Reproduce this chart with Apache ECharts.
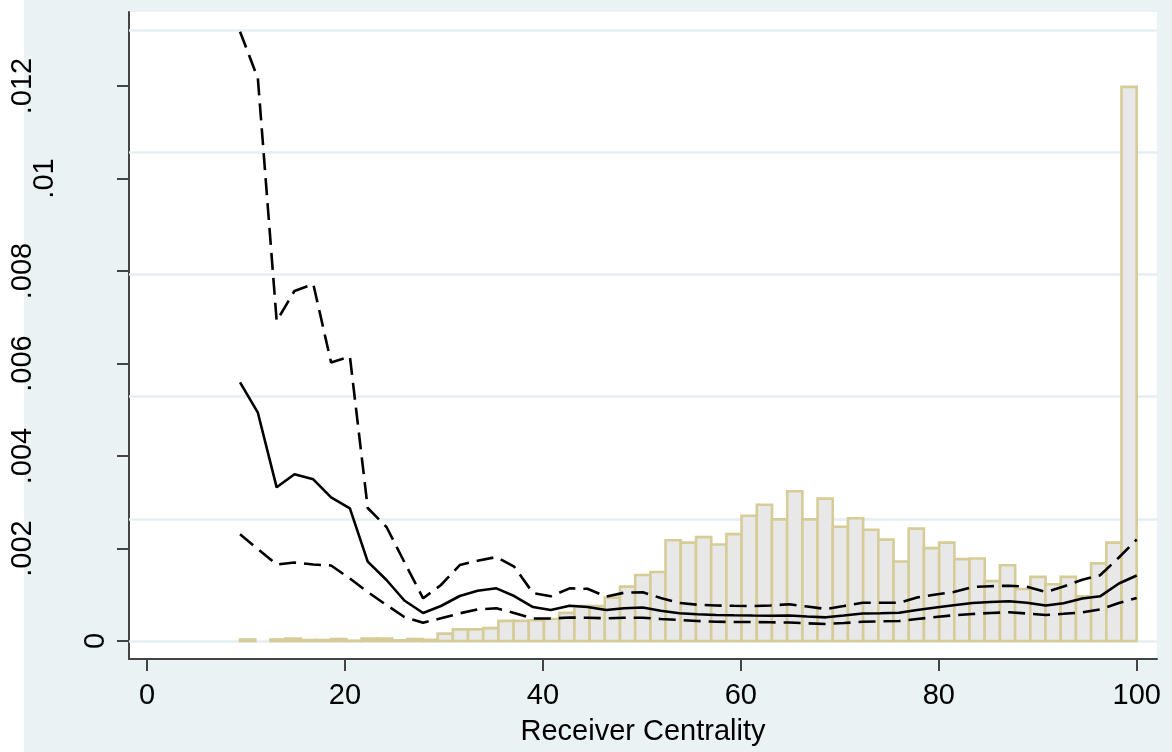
<!DOCTYPE html>
<html><head><meta charset="utf-8">
<script src="https://cdn.jsdelivr.net/npm/echarts@6/dist/echarts.min.js"></script>
<style>
html,body{margin:0;padding:0;background:#fff;}
#chart{width:1172px;height:752px;background:linear-gradient(to right,#ffffff 0,#ffffff 24px,#EAF2F3 24px);}
</style></head><body><div id="chart"></div>
<script>
// local polynomial fit evaluation grid (x) and values
const lpX = [9.4, 11.2, 13.1, 14.9, 16.8, 18.6, 20.5, 22.3, 24.2, 26.0, 27.9, 29.7, 31.6, 33.4, 35.3, 37.1, 39.0, 40.8, 42.7, 44.5, 46.4, 48.2, 50.1, 51.9, 53.8, 55.6, 57.5, 59.3, 61.2, 63.0, 64.9, 66.7, 68.6, 70.4, 72.3, 74.1, 76.0, 77.8, 79.7, 81.5, 83.4, 85.2, 87.1, 88.9, 90.8, 92.6, 94.5, 96.3, 98.2, 100.0];
const fitted = [0.005594, 0.004936, 0.003323, 0.003604, 0.003496, 0.003107, 0.002869, 0.001715, 0.001319, 0.000876, 0.000605, 0.000757, 0.000973, 0.001088, 0.001139, 0.000973, 0.000735, 0.000670, 0.000761, 0.000735, 0.000670, 0.000707, 0.000724, 0.000655, 0.000599, 0.000577, 0.000562, 0.000556, 0.000551, 0.000547, 0.000551, 0.000530, 0.000512, 0.000551, 0.000595, 0.000601, 0.000610, 0.000670, 0.000724, 0.000774, 0.000822, 0.000843, 0.000861, 0.000828, 0.000768, 0.000817, 0.000919, 0.000966, 0.001243, 0.001416];
const ciUpper = [0.013174, 0.012166, 0.006919, 0.007568, 0.007719, 0.006022, 0.006151, 0.002876, 0.002465, 0.001708, 0.000923, 0.001211, 0.001643, 0.001736, 0.001816, 0.001606, 0.001038, 0.000966, 0.001139, 0.001129, 0.000958, 0.001044, 0.001055, 0.000930, 0.000822, 0.000785, 0.000768, 0.000761, 0.000757, 0.000768, 0.000794, 0.000746, 0.000692, 0.000757, 0.000828, 0.000828, 0.000828, 0.000941, 0.001005, 0.001059, 0.001168, 0.001185, 0.001196, 0.001172, 0.001059, 0.001178, 0.001325, 0.001421, 0.001805, 0.002195];
const ciLower = [0.002307, 0.001989, 0.001654, 0.001697, 0.001654, 0.001632, 0.001351, 0.001059, 0.000778, 0.000519, 0.000396, 0.000491, 0.000599, 0.000681, 0.000707, 0.000605, 0.000486, 0.000486, 0.000508, 0.000502, 0.000491, 0.000502, 0.000502, 0.000476, 0.000454, 0.000432, 0.000417, 0.000411, 0.000411, 0.000404, 0.000400, 0.000383, 0.000368, 0.000389, 0.000415, 0.000426, 0.000432, 0.000476, 0.000519, 0.000556, 0.000584, 0.000605, 0.000621, 0.000595, 0.000562, 0.000588, 0.000618, 0.000681, 0.000822, 0.000930];

// histogram: bin centres and densities
const histCenters = [10.17, 11.70, 13.24, 14.77, 16.31, 17.85, 19.38, 20.92, 22.45, 23.99, 25.52, 27.06, 28.60, 30.13, 31.67, 33.20, 34.74, 36.27, 37.81, 39.34, 40.88, 42.42, 43.95, 45.49, 47.02, 48.56, 50.09, 51.63, 53.16, 54.70, 56.24, 57.77, 59.31, 60.84, 62.38, 63.91, 65.45, 66.99, 68.52, 70.06, 71.59, 73.13, 74.66, 76.20, 77.73, 79.27, 80.81, 82.34, 83.88, 85.41, 86.95, 88.48, 90.02, 91.55, 93.09, 94.63, 96.16, 97.70, 99.23];
const histDensity = [0.00025, 0, 0.00025, 0.0004, 0.00016, 0.00016, 0.00033, 0.00005, 0.0004, 0.0004, 0.00011, 0.00033, 0.0002, 0.0012, 0.0019, 0.0019, 0.0021, 0.0033, 0.0033, 0.0034, 0.0036, 0.0046, 0.0057, 0.0057, 0.0071, 0.0089, 0.0108, 0.0113, 0.0165, 0.0161, 0.0170, 0.0158, 0.0175, 0.0205, 0.0223, 0.0199, 0.0245, 0.0199, 0.0233, 0.0187, 0.0201, 0.0182, 0.0166, 0.0130, 0.0184, 0.0152, 0.0161, 0.0134, 0.0135, 0.0098, 0.0124, 0.0085, 0.0105, 0.0093, 0.0105, 0.0073, 0.0127, 0.0161, 0.0907];
const binWidth = 1.5356;

// ticks
const xTicks = [0, 20, 40, 60, 80, 100];
const xTickLabels = ['0', '20', '40', '60', '80', '100'];
const yTickValues = [0, 0.002, 0.004, 0.006, 0.008, 0.01, 0.012];
const yTickLabels = ['0', '.002', '.004', '.006', '.008', '.01', '.012'];
const histGrid = [0, 0.02, 0.04, 0.06, 0.08, 0.1];
const xTitle = 'Receiver Centrality';

const FONT = "'Liberation Sans', Arial, sans-serif";
const AXIS_COLOR = '#444';
const Y_MIN = -0.000389, Y_MAX = 0.0136;
const H_MIN = -0.002946, H_MAX = 0.10295;

function near(a, b) { return Math.abs(a - b) < 1e-9; }
function yFmt(v) {
  const i = yTickValues.findIndex(t => near(t, v));
  return i >= 0 ? yTickLabels[i] : '';
}
function xFmt(v) {
  const i = xTicks.findIndex(t => near(t, v));
  return i >= 0 ? xTickLabels[i] : '';
}
function labelAxis(values, margin) {
  return {
    type: 'value', position: 'left', min: Y_MIN, max: Y_MAX,
    axisLine: { show: false, onZero: false },
    axisTick: { show: false },
    splitLine: { show: false },
    axisLabel: {
      customValues: values, rotate: 90, margin: margin,
      fontSize: 29, fontFamily: FONT, color: '#000', formatter: yFmt
    }
  };
}

const labelZero = yTickValues.filter(v => near(v, 0));
const labelMid = yTickValues.filter(v => near(v, 0.01));
const labelRest = yTickValues.filter(v => !near(v, 0) && !near(v, 0.01));

const chart = echarts.init(document.getElementById('chart'), null, { renderer: 'canvas' });
chart.setOption({
  animation: false,
  backgroundColor: 'transparent',
  grid: { left: 129, right: 15, top: 12, bottom: 93, show: true, backgroundColor: '#ffffff', borderWidth: 0 },
  xAxis: {
    type: 'value', min: -1.82, max: 102.05,
    axisLine: { show: true, onZero: false, lineStyle: { color: AXIS_COLOR, width: 2 } },
    axisTick: { show: true, customValues: xTicks, length: 12, lineStyle: { color: AXIS_COLOR, width: 2 } },
    axisLabel: { customValues: xTicks, margin: 22, fontSize: 29, fontFamily: FONT, color: '#000', formatter: xFmt },
    splitLine: { show: false },
    name: xTitle, nameLocation: 'middle', nameGap: 58,
    nameTextStyle: { fontSize: 29, fontFamily: FONT, color: '#000' }
  },
  yAxis: [
    {
      type: 'value', position: 'left', min: Y_MIN, max: Y_MAX,
      axisLine: { show: true, onZero: false, lineStyle: { color: AXIS_COLOR, width: 2 } },
      axisTick: { show: true, customValues: yTickValues, length: 12, lineStyle: { color: AXIS_COLOR, width: 2 } },
      axisLabel: { customValues: labelZero, rotate: 90, margin: 19, fontSize: 29, fontFamily: FONT, color: '#000', formatter: yFmt },
      splitLine: { show: false }
    },
    {
      type: 'value', position: 'right', min: H_MIN, max: H_MAX, show: false,
      axisLine: { onZero: false }, splitLine: { show: false }
    },
    labelAxis(labelRest, 92),
    labelAxis(labelMid, 70)
  ],
  series: [
    {
      type: 'line', yAxisIndex: 1, silent: true, z: 1,
      data: histCenters.map((c, i) => [c, histDensity[i]]),
      showSymbol: false, symbol: 'none', lineStyle: { opacity: 0 },
      markLine: {
        silent: true, z: 1, symbol: ['none', 'none'], animation: false,
        label: { show: false },
        emphasis: { disabled: true },
        lineStyle: { color: '#E5EEF0', width: 2.5, type: 'solid' },
        data: histGrid.map(v => ({ yAxis: v }))
      }
    },
    {
      type: 'custom', yAxisIndex: 1, z: 2, silent: true,
      data: histCenters.map((c, i) => [c, histDensity[i]]),
      encode: { x: 0, y: 1 },
      renderItem: function (params, api) {
        const c = api.value(0), h = api.value(1);
        if (!h) return null;
        const p0 = api.coord([c - binWidth / 2, h]);
        const p1 = api.coord([c + binWidth / 2, 0]);
        return {
          type: 'rect',
          shape: { x: p0[0], y: p0[1], width: p1[0] - p0[0], height: p1[1] - p0[1] },
          style: { fill: '#E8E8E8', stroke: '#D6CC98', lineWidth: 2.6 }
        };
      }
    },
    {
      type: 'line', yAxisIndex: 0, z: 3, silent: true,
      data: lpX.map((x, i) => [x, ciUpper[i]]),
      showSymbol: false, symbol: 'none',
      lineStyle: { color: '#000', width: 2.6, type: [17, 8], cap: 'butt' }
    },
    {
      type: 'line', yAxisIndex: 0, z: 3, silent: true,
      data: lpX.map((x, i) => [x, fitted[i]]),
      showSymbol: false, symbol: 'none',
      lineStyle: { color: '#000', width: 2.6, type: 'solid' }
    },
    {
      type: 'line', yAxisIndex: 0, z: 3, silent: true,
      data: lpX.map((x, i) => [x, ciLower[i]]),
      showSymbol: false, symbol: 'none',
      lineStyle: { color: '#000', width: 2.6, type: [17, 8], cap: 'butt' }
    }
  ]
});
</script></body></html>
